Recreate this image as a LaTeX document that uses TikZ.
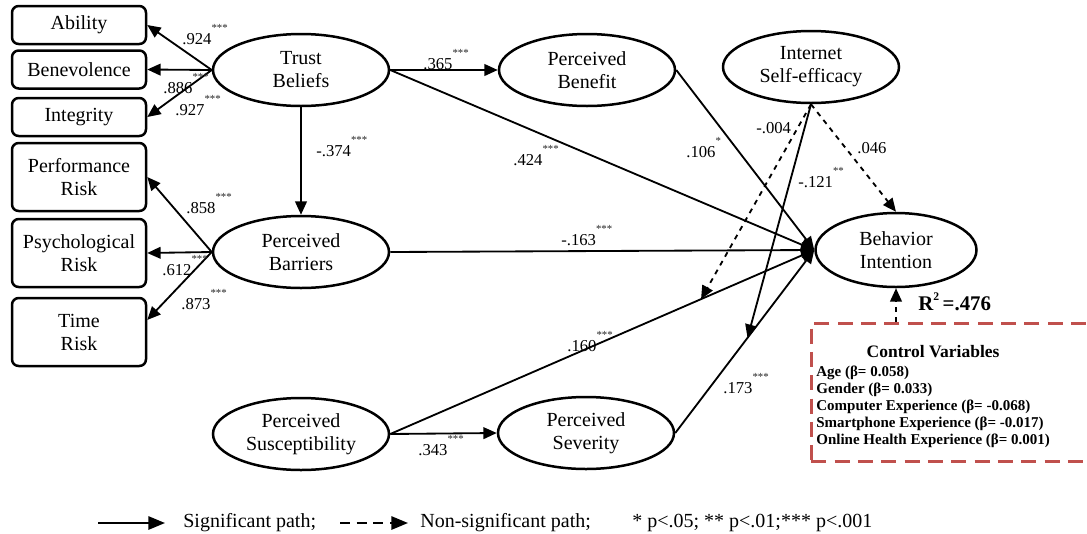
\documentclass[tikz,border=0pt]{standalone}
\usepackage{fontspec}
\setmainfont{Liberation Serif}
\usetikzlibrary{arrows.meta,positioning,calc,shapes.geometric}
\definecolor{ctrlred}{RGB}{192,80,77}
\newcommand{\sg}[1]{\raisebox{7.6pt}{\color{black!85}\fontsize{6.5}{6.5}\selectfont#1}}

\begin{document}
\begin{tikzpicture}[x=0.6pt,y=-0.6pt,
  >={Triangle[length=8pt,width=7pt]},
  latent/.style={ellipse,draw,line width=1.5pt,minimum width=105.6pt,minimum height=43.2pt,inner sep=0pt,align=center,font=\fontsize{12}{13.8}\selectfont},
  indic/.style={draw,rounded corners=4pt,line width=1.5pt,minimum width=80.4pt,align=center,font=\fontsize{12}{13.8}\selectfont},
  coef/.style={inner sep=0pt,anchor=base west,font=\fontsize{10}{12}\selectfont},
  legtext/.style={inner sep=0pt,anchor=base west,font=\fontsize{12}{14}\selectfont}]
\useasboundingbox (0,0) rectangle (1087,533);
% indicators
\node[indic,minimum height=22.8pt] (ability) at (79,25) {Ability};
\node[indic,minimum height=22.8pt] (benevolence) at (79,69.5) {Benevolence};
\node[indic,minimum height=22.8pt] (integrity) at (79,117) {Integrity};
\node[indic,minimum height=40.8pt] (performance) at (79,177) {Performance\\Risk};
\node[indic,minimum height=40.8pt] (psychological) at (79,253) {Psychological\\Risk};
\node[indic,minimum height=40.8pt] (time) at (79,332) {Time\\Risk};
% constructs
\node[latent] (trust) at (301,70) {Trust\\Beliefs};
\node[latent] (barriers) at (301,252) {Perceived\\Barriers};
\node[latent] (suscept) at (301,434) {Perceived\\Susceptibility};
\node[latent] (benefit) at (587,70) {Perceived\\Benefit};
\node[latent] (severity) at (586,433) {Perceived\\Severity};
\node[latent] (ise) at (811,67) {Internet\\Self-efficacy};
\node[latent,minimum width=96.6pt,minimum height=44.4pt] (bi) at (896,250) {Behavior\\Intention};
% control variables
\node[draw=ctrlred,line width=1.5pt,dash pattern=on 9pt off 5pt,minimum width=174pt,minimum height=82.8pt,anchor=north west] (ctrl) at (810,322) {};
\node[anchor=north west,inner sep=0pt,font=\bfseries\fontsize{9}{10.2}\selectfont] (ctrltext) at (816,345)
  {\begin{tabular}{@{}l@{}}
   \multicolumn{1}{@{}c@{}}{\fontsize{10.5}{12}\selectfont Control Variables}\\[1.2pt]
   Age (β= 0.058)\\
   Gender (β= 0.033)\\
   Computer Experience (β= -0.068)\\
   Smartphone Experience (β= -0.017)\\
   Online Health Experience (β= 0.001)
   \end{tabular}};
\node[inner sep=0pt,anchor=base west,font=\bfseries\fontsize{12.5}{14}\selectfont] (rsq) at (918,310) {R\raisebox{6pt}{\fontsize{7}{7}\selectfont 2}\,=.476};
% points on paths
\path (suscept.east) -- coordinate[pos=0.733] (m1) (bi.west);
\path (severity.east) -- coordinate[pos=0.52] (m2) (bi.west);

\path[->,line width=1.1pt]
(trust.west) edge (ability.east) edge (benevolence.east) edge (integrity.east)
(barriers.west) edge (performance.east) edge (psychological.east) edge (time.10)
(trust) edge (barriers)
(trust.east) edge (benefit.west) edge (bi.west)
(benefit.east) edge (bi.west)
(barriers.east) edge (bi.west)
(suscept.east) edge (severity.west) edge (bi.west)
(severity.east) edge (bi.west)
(ise.south) edge (m2)
;
\path[->,dashed,line width=1.1pt]
(ise.south) edge (m1) edge (bi.north)
(ctrl.north -| bi.south) edge (bi.south)
;

% coefficients
\node[coef] (c924) at (182,44) {.924\sg{***}};
\node[coef] (c886) at (163,93) {.886\sg{***}};
\node[coef] (c927) at (175,115) {.927\sg{***}};
\node[coef] (c374) at (316,156) {-.374\sg{***}};
\node[coef] (c858) at (186,213) {.858\sg{***}};
\node[coef] (c612) at (162,275) {.612\sg{***}};
\node[coef] (c873) at (181,309) {.873\sg{***}};
\node[coef] (c365) at (423,69) {.365\sg{***}};
\node[coef] (c424) at (513,165) {.424\sg{***}};
\node[coef] (c106) at (686,157) {.106\sg{*}};
\node[coef] (c004) at (756,133) {-.004};
\node[coef] (c046) at (857,153) {.046};
\node[coef] (c121) at (798,187) {-.121\sg{**}};
\node[coef] (c163) at (561,245) {-.163\sg{***}};
\node[coef] (c160) at (567,351) {.160\sg{***}};
\node[coef] (c343) at (418,455) {.343\sg{***}};
\node[coef] (c173) at (723,393) {.173\sg{***}};

% legend
\coordinate (s0) at (98,523);
\coordinate (s1) at (165,523);
\coordinate (n0) at (340,523);
\coordinate (n1) at (408,523);
\draw[-{Triangle[length=10pt,width=8pt]},line width=1.1pt] (s0) -- (s1);
\draw[-{Triangle[length=10pt,width=8pt]},line width=1.1pt,dash pattern=on 6pt off 4pt] (n0) -- (n1);
\node[legtext] (lsig) at (183,527) {Significant path;};
\node[legtext] (lnon) at (420,527) {Non-significant path;};
\node[legtext] (lp) at (632,527) {* p<.05; ** p<.01;*** p<.001};
\end{tikzpicture}
\end{document}
